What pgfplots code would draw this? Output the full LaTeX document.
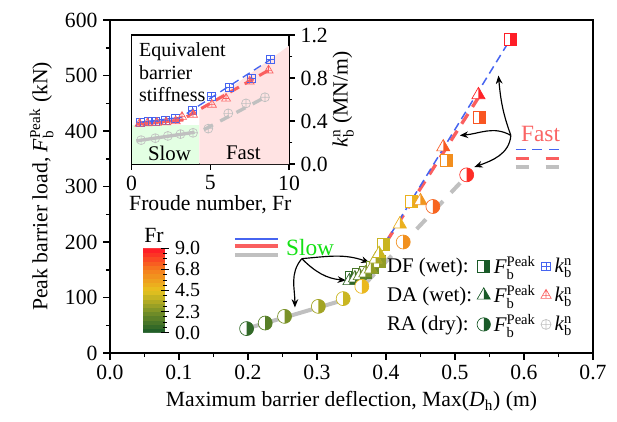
\documentclass[border=0pt]{standalone}
\usepackage{fontspec}
\setmainfont{Liberation Serif}
\setmathrm{Liberation Serif}
\usepackage{pgfplots}
\usepackage{pgfplotstable}
\pgfplotsset{compat=1.18}
\usetikzlibrary{arrows.meta}

\definecolor{cblue}{RGB}{70,100,240}
\definecolor{cred}{RGB}{250,95,95}
\definecolor{cgray}{RGB}{192,192,192}
\definecolor{frzero}{RGB}{25,90,40}
\definecolor{slowgreen}{RGB}{20,225,20}
\definecolor{fastpink}{RGB}{250,100,100}

% half filled marks (right half in mapped colour)
\pgfdeclareplotmark{halfsq}{%
  \begin{pgfscope}\pgfsetfillcolor{white}%
  \pgfpathrectangle{\pgfqpoint{-\pgfplotmarksize}{-\pgfplotmarksize}}{\pgfqpoint{2\pgfplotmarksize}{2\pgfplotmarksize}}%
  \pgfusepathqfill\end{pgfscope}%
  \pgfpathrectangle{\pgfqpoint{0pt}{-\pgfplotmarksize}}{\pgfqpoint{\pgfplotmarksize}{2\pgfplotmarksize}}%
  \pgfusepathqfill
  \pgfpathrectangle{\pgfqpoint{-\pgfplotmarksize}{-\pgfplotmarksize}}{\pgfqpoint{2\pgfplotmarksize}{2\pgfplotmarksize}}%
  \pgfusepathqstroke}
\pgfdeclareplotmark{halftri}{%
  \begin{pgfscope}\pgfsetfillcolor{white}%
  \pgfpathmoveto{\pgfqpoint{0pt}{1.2\pgfplotmarksize}}%
  \pgfpathlineto{\pgfqpoint{-1.04\pgfplotmarksize}{-0.6\pgfplotmarksize}}%
  \pgfpathlineto{\pgfqpoint{1.04\pgfplotmarksize}{-0.6\pgfplotmarksize}}\pgfpathclose
  \pgfusepathqfill\end{pgfscope}%
  \pgfpathmoveto{\pgfqpoint{0pt}{1.2\pgfplotmarksize}}%
  \pgfpathlineto{\pgfqpoint{0pt}{-0.6\pgfplotmarksize}}%
  \pgfpathlineto{\pgfqpoint{1.04\pgfplotmarksize}{-0.6\pgfplotmarksize}}\pgfpathclose
  \pgfusepathqfill
  \pgfpathmoveto{\pgfqpoint{0pt}{1.2\pgfplotmarksize}}%
  \pgfpathlineto{\pgfqpoint{-1.04\pgfplotmarksize}{-0.6\pgfplotmarksize}}%
  \pgfpathlineto{\pgfqpoint{1.04\pgfplotmarksize}{-0.6\pgfplotmarksize}}\pgfpathclose
  \pgfusepathqstroke}
\pgfdeclareplotmark{halfcirc}{%
  \begin{pgfscope}\pgfsetfillcolor{white}%
  \pgfpathcircle{\pgfpointorigin}{\pgfplotmarksize}\pgfusepathqfill\end{pgfscope}%
  \pgfpathmoveto{\pgfqpoint{0pt}{\pgfplotmarksize}}%
  \pgfpatharc{90}{-90}{\pgfplotmarksize}\pgfpathclose
  \pgfusepathqfill
  \pgfpathcircle{\pgfpointorigin}{\pgfplotmarksize}\pgfusepathqstroke}
% open marks with a cross inside
\pgfdeclareplotmark{sqplus}{%
  \pgfpathrectangle{\pgfqpoint{-\pgfplotmarksize}{-\pgfplotmarksize}}{\pgfqpoint{2\pgfplotmarksize}{2\pgfplotmarksize}}%
  \pgfpathmoveto{\pgfqpoint{-\pgfplotmarksize}{0pt}}\pgfpathlineto{\pgfqpoint{\pgfplotmarksize}{0pt}}%
  \pgfpathmoveto{\pgfqpoint{0pt}{-\pgfplotmarksize}}\pgfpathlineto{\pgfqpoint{0pt}{\pgfplotmarksize}}%
  \pgfusepathqstroke}
\pgfdeclareplotmark{triplus}{%
  \pgfpathmoveto{\pgfqpoint{0pt}{1.2\pgfplotmarksize}}%
  \pgfpathlineto{\pgfqpoint{-1.04\pgfplotmarksize}{-0.6\pgfplotmarksize}}%
  \pgfpathlineto{\pgfqpoint{1.04\pgfplotmarksize}{-0.6\pgfplotmarksize}}\pgfpathclose
  \pgfpathmoveto{\pgfqpoint{0pt}{1.2\pgfplotmarksize}}\pgfpathlineto{\pgfqpoint{0pt}{-0.6\pgfplotmarksize}}%
  \pgfpathmoveto{\pgfqpoint{-0.69\pgfplotmarksize}{0pt}}\pgfpathlineto{\pgfqpoint{0.69\pgfplotmarksize}{0pt}}%
  \pgfusepathqstroke}

% D (m), F (kN), Fr, k (MN/m)
\pgfplotstableread{
D     F    fr    k
0.350 137  0.53  0.391
0.360 142  1.06  0.394
0.370 146  1.48  0.395
0.380 155  2.12  0.408
0.390 166  2.75  0.426
0.396 196  3.87  0.495
0.437 274  5.08  0.627
0.488 347  6.20  0.711
0.535 424  7.58  0.793
0.580 565  8.79  0.974
}\dfdata
\pgfplotstableread{
D     F    fr    k
0.347 130  0.50  0.375
0.355 135  1.00  0.380
0.362 139  1.60  0.384
0.370 144  2.20  0.389
0.378 151  2.80  0.399
0.385 169  3.20  0.439
0.390 179  3.90  0.459
0.420 232  5.10  0.552
0.450 274  6.00  0.609
0.483 371  7.50  0.768
0.534 465  8.70  0.871
}\dadata
\pgfplotstableread{
D     F    fr    k
0.198 44   0.60  0.222
0.225 54   1.50  0.240
0.253 66   2.30  0.261
0.302 84   3.10  0.278
0.338 98   3.90  0.290
0.365 120  4.87  0.329
0.425 200  6.14  0.471
0.468 264  7.27  0.564
0.517 321  8.47  0.621
}\radata

\newcommand\Fpk{\textit{F}$_\mathrm{b}^\mathrm{Peak}$}
\newcommand\kbn{\textit{k}$_\mathrm{b}^\mathrm{n}$}

\begin{document}
\begin{tikzpicture}
\useasboundingbox (-66pt,-40.8pt) rectangle (304.2pt,211.8pt);
\begin{axis}[
    at={(0pt,0pt)}, anchor=south west,
    scale only axis,
    width=289.8pt, height=199.8pt,
    font=\fontsize{13}{15}\selectfont,
    xmin=0, xmax=0.7, ymin=0, ymax=600,
    xtick={0,0.1,0.2,0.3,0.4,0.5,0.6,0.7},
    ytick={0,100,200,300,400,500,600},
    minor x tick num=1, minor y tick num=1,
    tick align=outside, xtick pos=left, ytick pos=left,
    major tick length=4pt, minor tick length=2.5pt,
    every tick/.style={black, line width=0.9pt},
    axis line style={line width=1pt},
    /pgf/number format/assume math mode=true,
    xticklabel style={/pgf/number format/.cd, fixed, fixed zerofill, precision=1},
    xlabel={Maximum barrier deflection, Max(\textit{D}$_\mathrm{h}$) (m)},
    ylabel={Peak barrier load, \Fpk\ (kN)},
    colormap={frmap}{rgb255(0cm)=(25,90,40); rgb255(1cm)=(120,145,40); rgb255(2cm)=(232,195,30); rgb255(3cm)=(245,125,30); rgb255(4cm)=(255,20,40)},
    point meta min=0, point meta max=9,
    colorbar sampled,
    colorbar shift/.style={xshift=19.8pt, yshift=12.2pt},
    colorbar style={
        at={(parent axis.south west)}, anchor=south west,
        scale only axis, width=13.2pt, height=50.6pt, samples=21,
        font=\fontsize{12}{13}\selectfont,
        ytick={0,2.25,4.5,6.75,9}, yticklabels={0.0,2.3,4.5,6.8,9.0},
        yticklabel pos=right, ytick pos=right, tick align=center,
        major tick length=5pt, minor y tick num=3, minor tick length=2pt,
        every tick/.style={black, line width=0.5pt},
        axis line style={draw=none},
        title={Fr}, title style={yshift=-6pt, font=\fontsize{13}{14}\selectfont},
    },
    legend columns=3,
    legend cell align=left,
    legend style={at={(0.975,0.035)}, anchor=south east, draw=none, fill=none,
        row sep=1.5pt, font=\fontsize{12.5}{15}\selectfont,
        /tikz/every even column/.append style={column sep=1pt}},
]
% data
\addplot[scatter, only marks, mark=halfsq, mark size=3.6pt, point meta=explicit,
    scatter/use mapped color={draw=mapped color, fill=mapped color}, forget plot]
    table[x=D, y=F, meta=fr] {\dfdata};
\addplot[scatter, only marks, mark=halftri, mark size=3.8pt, point meta=explicit,
    scatter/use mapped color={draw=mapped color, fill=mapped color}, forget plot]
    table[x=D, y=F, meta=fr] {\dadata};
\addplot[scatter, only marks, mark=halfcirc, mark size=4.2pt, point meta=explicit,
    scatter/use mapped color={draw=mapped color, fill=mapped color}, forget plot]
    table[x=D, y=F, meta=fr] {\radata};

% fitted lines
\addplot[cgray, line width=2.4pt, forget plot] coordinates {(0.198,44) (0.343,97)};
\addplot[cgray, line width=2.4pt, dash pattern=on 8pt off 7pt, forget plot] coordinates {(0.37,125) (0.52,323)};
\addplot[cred, line width=2pt, forget plot] coordinates {(0.345,125) (0.385,162)};
\addplot[cred, line width=2pt, dash pattern=on 7pt off 5pt, forget plot] coordinates {(0.385,170) (0.54,472)};
\addplot[cblue, line width=0.9pt, forget plot] coordinates {(0.345,129) (0.39,168)};
\addplot[cblue, line width=0.9pt, dash pattern=on 5pt off 3pt, forget plot] coordinates {(0.388,176) (0.585,575)};

% key lines for slow / fast fits
\addplot[cblue, line width=0.9pt, forget plot] coordinates {(0.181,205) (0.244,205)};
\addplot[cred, line width=2pt, forget plot] coordinates {(0.181,193) (0.244,193)};
\addplot[cgray, line width=2.4pt, forget plot] coordinates {(0.181,176) (0.244,176)};
\addplot[cblue, line width=0.9pt, dash pattern=on 6pt off 4pt, forget plot] coordinates {(0.588,367) (0.656,367)};
\addplot[cred, line width=2pt, dash pattern=on 8pt off 10pt, forget plot] coordinates {(0.588,351) (0.656,351)};
\addplot[cgray, line width=2.4pt, dash pattern=on 8pt off 10pt, forget plot] coordinates {(0.588,335) (0.656,335)};

\node[text=slowgreen, font=\fontsize{14}{16}\selectfont] at (axis cs:0.290,190) {Slow};
\node[text=fastpink, font=\fontsize{14}{16}\selectfont] at (axis cs:0.624,395) {Fast};

% arrows
\draw[-{Stealth[length=5pt,width=4pt]}, line width=0.7pt] (axis cs:0.278,170) to[out=-130,in=90] (axis cs:0.268,82);
\draw[-{Stealth[length=5pt,width=4pt]}, line width=0.7pt] (axis cs:0.278,170) to[out=-45,in=175] (axis cs:0.342,131);
\draw[-{Stealth[length=5pt,width=4pt]}, line width=0.7pt] (axis cs:0.278,170) to[out=5,in=160] (axis cs:0.376,163);
\draw[-{Stealth[length=5pt,width=4pt]}, line width=0.7pt] (axis cs:0.581,392) to[out=110,in=-85] (axis cs:0.563,500);
\draw[-{Stealth[length=5pt,width=4pt]}, line width=0.7pt] (axis cs:0.581,392) to[out=150,in=5] (axis cs:0.507,392);
\draw[-{Stealth[length=5pt,width=4pt]}, line width=0.7pt] (axis cs:0.581,392) to[out=-95,in=20] (axis cs:0.528,335);

% legend
\addlegendimage{empty legend}\addlegendentry{DF (wet):}
\addlegendimage{only marks, mark=halfsq, mark size=3.6pt, draw=frzero, fill=frzero}\addlegendentry{\Fpk}
\addlegendimage{only marks, mark=sqplus, mark size=2.6pt, draw=cblue}\addlegendentry{\kbn}
\addlegendimage{empty legend}\addlegendentry{DA (wet):}
\addlegendimage{only marks, mark=halftri, mark size=3.8pt, draw=frzero, fill=frzero}\addlegendentry{\Fpk}
\addlegendimage{only marks, mark=triplus, mark size=3pt, draw=cred}\addlegendentry{\kbn}
\addlegendimage{empty legend}\addlegendentry{RA (dry):}
\addlegendimage{only marks, mark=halfcirc, mark size=4pt, draw=frzero, fill=frzero}\addlegendentry{\Fpk}
\addlegendimage{only marks, mark=oplus, mark size=3pt, draw=cgray}\addlegendentry{\kbn}
\end{axis}

% inset: equivalent barrier stiffness
\begin{axis}[
    at={(13.0pt,113.4pt)}, anchor=south west,
    scale only axis,
    width=94.4pt, height=77.4pt,
    font=\fontsize{13}{15}\selectfont,
    axis background/.style={fill=white},
    xmin=0, xmax=10, ymin=0, ymax=1.2,
    xtick={0,5,10}, ytick={0,0.4,0.8,1.2},
    minor y tick num=1,
    tick align=outside, xtick pos=left, ytick pos=right, yticklabel pos=right,
    major tick length=3.5pt, minor tick length=2pt,
    every tick/.style={black, line width=0.8pt},
    axis line style={line width=0.9pt},
    /pgf/number format/assume math mode=true,
    yticklabel style={/pgf/number format/.cd, fixed, fixed zerofill, precision=1},
    xlabel={Froude number, Fr},
    ylabel={\kbn\ (MN/m)},
    xlabel style={yshift=4pt},
    ylabel style={yshift=4pt},
]
\addplot[fill=green!11, draw=none] coordinates {(0,0) (0,0.36) (4.3,0.36) (4.3,0)} -- cycle;
\addplot[fill=red!11, draw=none] coordinates {(4.3,0) (4.3,0.5) (10,1.1) (10,0)} -- cycle;

\addplot[only marks, mark=sqplus, mark size=2.4pt, cblue] table[x=fr, y=k] {\dfdata};
\addplot[only marks, mark=triplus, mark size=2.6pt, cred] table[x=fr, y=k] {\dadata};
\addplot[only marks, mark=oplus, mark size=2.7pt, cgray] table[x=fr, y=k] {\radata};

\addplot[cgray, line width=2pt] coordinates {(0.3,0.215) (4.0,0.295)};
\addplot[cgray, line width=2pt, dash pattern=on 6pt off 5pt] coordinates {(4.6,0.32) (8.6,0.63)};
\addplot[cred, line width=1.8pt] coordinates {(0.3,0.37) (3.3,0.41)};
\addplot[cred, line width=1.8pt, dash pattern=on 6pt off 4pt] coordinates {(3.5,0.44) (8.8,0.88)};
\addplot[cblue, line width=0.8pt] coordinates {(0.3,0.385) (3.2,0.435)};
\addplot[cblue, line width=0.8pt, dash pattern=on 5pt off 3pt] coordinates {(3.5,0.47) (8.8,0.97)};

\node[anchor=north west, align=left, inner sep=0pt, font=\fontsize{12}{13.5}\selectfont] at (axis cs:0.45,1.13) {Equivalent\\barrier\\stiffness};
\node[font=\fontsize{12.5}{14}\selectfont] at (axis cs:2.4,0.10) {Slow};
\node[font=\fontsize{12.5}{14}\selectfont] at (axis cs:7.1,0.10) {Fast};
\end{axis}
\end{tikzpicture}
\end{document}
